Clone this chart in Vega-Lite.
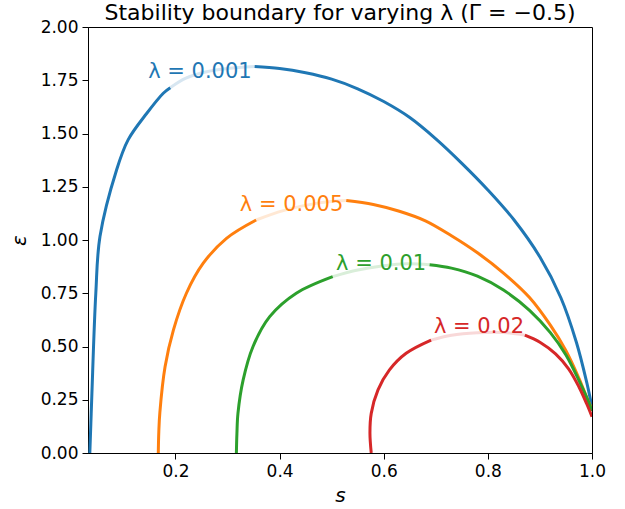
{
  "$schema": "https://vega.github.io/schema/vega-lite/v6.json",
  "width": 504,
  "height": 426,
  "autosize": {"type": "none"},
  "padding": {"left": 88, "top": 27, "right": 33, "bottom": 56},
  "background": "white",
  "title": {"text": "Stability boundary for varying λ (Γ = −0.5)", "offset": -7},
  "datasets": {
    "curves": [
      {"lam": "0.001", "part": "A", "under_label": "no", "i": 0, "s": 0.0355, "e": 0},
      {"lam": "0.001", "part": "A", "under_label": "no", "i": 1, "s": 0.0375, "e": 0.14},
      {"lam": "0.001", "part": "A", "under_label": "no", "i": 2, "s": 0.0395, "e": 0.28},
      {"lam": "0.001", "part": "A", "under_label": "no", "i": 3, "s": 0.047, "e": 0.75},
      {"lam": "0.001", "part": "A", "under_label": "no", "i": 4, "s": 0.055, "e": 1.016},
      {"lam": "0.001", "part": "A", "under_label": "no", "i": 5, "s": 0.087, "e": 1.33},
      {"lam": "0.001", "part": "A", "under_label": "no", "i": 6, "s": 0.109, "e": 1.47},
      {"lam": "0.001", "part": "A", "under_label": "no", "i": 7, "s": 0.145, "e": 1.595},
      {"lam": "0.001", "part": "A", "under_label": "no", "i": 8, "s": 0.1766, "e": 1.689},
      {"lam": "0.001", "part": "A", "under_label": "no", "i": 9, "s": 0.19, "e": 1.715},
      {"lam": "0.001", "part": "B", "under_label": "yes", "i": 10, "s": 0.19, "e": 1.715},
      {"lam": "0.001", "part": "B", "under_label": "yes", "i": 11, "s": 0.22, "e": 1.76},
      {"lam": "0.001", "part": "B", "under_label": "yes", "i": 12, "s": 0.26, "e": 1.79},
      {"lam": "0.001", "part": "B", "under_label": "yes", "i": 13, "s": 0.30, "e": 1.805},
      {"lam": "0.001", "part": "B", "under_label": "yes", "i": 14, "s": 0.352, "e": 1.814},
      {"lam": "0.001", "part": "C", "under_label": "no", "i": 15, "s": 0.352, "e": 1.814},
      {"lam": "0.001", "part": "C", "under_label": "no", "i": 16, "s": 0.40, "e": 1.805},
      {"lam": "0.001", "part": "C", "under_label": "no", "i": 17, "s": 0.45, "e": 1.785},
      {"lam": "0.001", "part": "C", "under_label": "no", "i": 18, "s": 0.50, "e": 1.755},
      {"lam": "0.001", "part": "C", "under_label": "no", "i": 19, "s": 0.55, "e": 1.71},
      {"lam": "0.001", "part": "C", "under_label": "no", "i": 20, "s": 0.60, "e": 1.65},
      {"lam": "0.001", "part": "C", "under_label": "no", "i": 21, "s": 0.65, "e": 1.575},
      {"lam": "0.001", "part": "C", "under_label": "no", "i": 22, "s": 0.70, "e": 1.475},
      {"lam": "0.001", "part": "C", "under_label": "no", "i": 23, "s": 0.75, "e": 1.36},
      {"lam": "0.001", "part": "C", "under_label": "no", "i": 24, "s": 0.80, "e": 1.235},
      {"lam": "0.001", "part": "C", "under_label": "no", "i": 25, "s": 0.85, "e": 1.095},
      {"lam": "0.001", "part": "C", "under_label": "no", "i": 26, "s": 0.90, "e": 0.92},
      {"lam": "0.001", "part": "C", "under_label": "no", "i": 27, "s": 0.94, "e": 0.73},
      {"lam": "0.001", "part": "C", "under_label": "no", "i": 28, "s": 0.97, "e": 0.52},
      {"lam": "0.001", "part": "C", "under_label": "no", "i": 29, "s": 0.99, "e": 0.33},
      {"lam": "0.001", "part": "C", "under_label": "no", "i": 30, "s": 1.0, "e": 0.215},

      {"lam": "0.005", "part": "A", "under_label": "no", "i": 0, "s": 0.167, "e": 0},
      {"lam": "0.005", "part": "A", "under_label": "no", "i": 1, "s": 0.168, "e": 0.1},
      {"lam": "0.005", "part": "A", "under_label": "no", "i": 2, "s": 0.170, "e": 0.19},
      {"lam": "0.005", "part": "A", "under_label": "no", "i": 3, "s": 0.180, "e": 0.405},
      {"lam": "0.005", "part": "A", "under_label": "no", "i": 4, "s": 0.196, "e": 0.577},
      {"lam": "0.005", "part": "A", "under_label": "no", "i": 5, "s": 0.221, "e": 0.75},
      {"lam": "0.005", "part": "A", "under_label": "no", "i": 6, "s": 0.253, "e": 0.89},
      {"lam": "0.005", "part": "A", "under_label": "no", "i": 7, "s": 0.298, "e": 1.008},
      {"lam": "0.005", "part": "A", "under_label": "no", "i": 8, "s": 0.355, "e": 1.094},
      {"lam": "0.005", "part": "B", "under_label": "yes", "i": 9, "s": 0.355, "e": 1.094},
      {"lam": "0.005", "part": "B", "under_label": "yes", "i": 10, "s": 0.407, "e": 1.138},
      {"lam": "0.005", "part": "B", "under_label": "yes", "i": 11, "s": 0.47, "e": 1.172},
      {"lam": "0.005", "part": "B", "under_label": "yes", "i": 12, "s": 0.528, "e": 1.185},
      {"lam": "0.005", "part": "C", "under_label": "no", "i": 13, "s": 0.528, "e": 1.185},
      {"lam": "0.005", "part": "C", "under_label": "no", "i": 14, "s": 0.58, "e": 1.167},
      {"lam": "0.005", "part": "C", "under_label": "no", "i": 15, "s": 0.63, "e": 1.135},
      {"lam": "0.005", "part": "C", "under_label": "no", "i": 16, "s": 0.68, "e": 1.09},
      {"lam": "0.005", "part": "C", "under_label": "no", "i": 17, "s": 0.73, "e": 1.02},
      {"lam": "0.005", "part": "C", "under_label": "no", "i": 18, "s": 0.78, "e": 0.94},
      {"lam": "0.005", "part": "C", "under_label": "no", "i": 19, "s": 0.83, "e": 0.845},
      {"lam": "0.005", "part": "C", "under_label": "no", "i": 20, "s": 0.88, "e": 0.73},
      {"lam": "0.005", "part": "C", "under_label": "no", "i": 21, "s": 0.92, "e": 0.60},
      {"lam": "0.005", "part": "C", "under_label": "no", "i": 22, "s": 0.95, "e": 0.48},
      {"lam": "0.005", "part": "C", "under_label": "no", "i": 23, "s": 0.975, "e": 0.35},
      {"lam": "0.005", "part": "C", "under_label": "no", "i": 24, "s": 0.99, "e": 0.26},
      {"lam": "0.005", "part": "C", "under_label": "no", "i": 25, "s": 1.0, "e": 0.205},

      {"lam": "0.01", "part": "A", "under_label": "no", "i": 0, "s": 0.317, "e": 0},
      {"lam": "0.01", "part": "A", "under_label": "no", "i": 1, "s": 0.318, "e": 0.09},
      {"lam": "0.01", "part": "A", "under_label": "no", "i": 2, "s": 0.320, "e": 0.186},
      {"lam": "0.01", "part": "A", "under_label": "no", "i": 3, "s": 0.330, "e": 0.343},
      {"lam": "0.01", "part": "A", "under_label": "no", "i": 4, "s": 0.349, "e": 0.5},
      {"lam": "0.01", "part": "A", "under_label": "no", "i": 5, "s": 0.381, "e": 0.64},
      {"lam": "0.01", "part": "A", "under_label": "no", "i": 6, "s": 0.432, "e": 0.75},
      {"lam": "0.01", "part": "A", "under_label": "no", "i": 7, "s": 0.502, "e": 0.828},
      {"lam": "0.01", "part": "B", "under_label": "yes", "i": 8, "s": 0.502, "e": 0.828},
      {"lam": "0.01", "part": "B", "under_label": "yes", "i": 9, "s": 0.55, "e": 0.859},
      {"lam": "0.01", "part": "B", "under_label": "yes", "i": 10, "s": 0.60, "e": 0.879},
      {"lam": "0.01", "part": "B", "under_label": "yes", "i": 11, "s": 0.645, "e": 0.888},
      {"lam": "0.01", "part": "B", "under_label": "yes", "i": 12, "s": 0.688, "e": 0.884},
      {"lam": "0.01", "part": "C", "under_label": "no", "i": 13, "s": 0.688, "e": 0.884},
      {"lam": "0.01", "part": "C", "under_label": "no", "i": 14, "s": 0.73, "e": 0.868},
      {"lam": "0.01", "part": "C", "under_label": "no", "i": 15, "s": 0.78, "e": 0.83},
      {"lam": "0.01", "part": "C", "under_label": "no", "i": 16, "s": 0.83, "e": 0.765},
      {"lam": "0.01", "part": "C", "under_label": "no", "i": 17, "s": 0.88, "e": 0.67},
      {"lam": "0.01", "part": "C", "under_label": "no", "i": 18, "s": 0.92, "e": 0.565},
      {"lam": "0.01", "part": "C", "under_label": "no", "i": 19, "s": 0.95, "e": 0.46},
      {"lam": "0.01", "part": "C", "under_label": "no", "i": 20, "s": 0.975, "e": 0.34},
      {"lam": "0.01", "part": "C", "under_label": "no", "i": 21, "s": 0.99, "e": 0.26},
      {"lam": "0.01", "part": "C", "under_label": "no", "i": 22, "s": 1.0, "e": 0.197},

      {"lam": "0.02", "part": "A", "under_label": "no", "i": 0, "s": 0.576, "e": 0},
      {"lam": "0.02", "part": "A", "under_label": "no", "i": 1, "s": 0.5735, "e": 0.094},
      {"lam": "0.02", "part": "A", "under_label": "no", "i": 2, "s": 0.576, "e": 0.186},
      {"lam": "0.02", "part": "A", "under_label": "no", "i": 3, "s": 0.589, "e": 0.296},
      {"lam": "0.02", "part": "A", "under_label": "no", "i": 4, "s": 0.611, "e": 0.39},
      {"lam": "0.02", "part": "A", "under_label": "no", "i": 5, "s": 0.643, "e": 0.468},
      {"lam": "0.02", "part": "A", "under_label": "no", "i": 6, "s": 0.691, "e": 0.53},
      {"lam": "0.02", "part": "B", "under_label": "yes", "i": 7, "s": 0.691, "e": 0.53},
      {"lam": "0.02", "part": "B", "under_label": "yes", "i": 8, "s": 0.73, "e": 0.553},
      {"lam": "0.02", "part": "B", "under_label": "yes", "i": 9, "s": 0.78, "e": 0.565},
      {"lam": "0.02", "part": "B", "under_label": "yes", "i": 10, "s": 0.83, "e": 0.566},
      {"lam": "0.02", "part": "B", "under_label": "yes", "i": 11, "s": 0.871, "e": 0.553},
      {"lam": "0.02", "part": "C", "under_label": "no", "i": 12, "s": 0.871, "e": 0.553},
      {"lam": "0.02", "part": "C", "under_label": "no", "i": 13, "s": 0.90, "e": 0.52},
      {"lam": "0.02", "part": "C", "under_label": "no", "i": 14, "s": 0.93, "e": 0.465},
      {"lam": "0.02", "part": "C", "under_label": "no", "i": 15, "s": 0.955, "e": 0.395},
      {"lam": "0.02", "part": "C", "under_label": "no", "i": 16, "s": 0.975, "e": 0.31},
      {"lam": "0.02", "part": "C", "under_label": "no", "i": 17, "s": 0.99, "e": 0.23},
      {"lam": "0.02", "part": "C", "under_label": "no", "i": 18, "s": 1.0, "e": 0.17}
    ],
    "labels": [
      {"lam": "0.001", "s": 0.247, "e": 1.789, "text": "λ = 0.001"},
      {"lam": "0.005", "s": 0.423, "e": 1.164, "text": "λ = 0.005"},
      {"lam": "0.01", "s": 0.595, "e": 0.887, "text": "λ = 0.01"},
      {"lam": "0.02", "s": 0.783, "e": 0.592, "text": "λ = 0.02"}
    ]
  },
  "layer": [
    {
      "data": {"name": "curves"},
      "mark": {"type": "line", "strokeWidth": 3, "clip": true, "interpolate": "catmull-rom"},
      "encoding": {
        "x": {"field": "s", "type": "quantitative", "scale": {"domain": [0.032, 1.0], "nice": false, "zero": false},
              "axis": {"title": "s", "values": [0.2, 0.4, 0.6, 0.8, 1.0], "format": ".1f", "titleFontStyle": "italic", "titlePadding": 6}},
        "y": {"field": "e", "type": "quantitative", "scale": {"domain": [0, 2.0], "nice": false},
              "axis": {"title": "ε", "values": [0, 0.25, 0.5, 0.75, 1.0, 1.25, 1.5, 1.75, 2.0], "format": ".2f", "titleFontStyle": "italic", "titlePadding": 11}},
        "color": {"field": "lam", "type": "nominal", "scale": {"domain": ["0.001", "0.005", "0.01", "0.02"], "range": ["#1f77b4", "#ff7f0e", "#2ca02c", "#d62728"]}, "legend": null},
        "detail": {"field": "part"},
        "opacity": {"field": "under_label", "type": "nominal", "scale": {"domain": ["no", "yes"], "range": [1, 0.18]}, "legend": null},
        "order": {"field": "i", "type": "quantitative"}
      }
    },
    {
      "data": {"name": "labels"},
      "mark": {"type": "text", "font": "DejaVu Sans", "fontSize": 21, "baseline": "middle", "align": "center"},
      "encoding": {
        "x": {"field": "s", "type": "quantitative"},
        "y": {"field": "e", "type": "quantitative"},
        "text": {"field": "text"},
        "color": {"field": "lam", "type": "nominal", "legend": null}
      }
    }
  ],
  "config": {
    "view": {"stroke": "black", "strokeWidth": 1},
    "axis": {
      "domainColor": "black", "tickColor": "black", "labelColor": "black", "titleColor": "black",
      "labelFont": "DejaVu Sans", "titleFont": "DejaVu Sans", "labelFontSize": 17, "titleFontSize": 20,
      "titleFontWeight": "normal", "grid": false, "tickSize": 6, "labelPadding": 4, "labelFlush": false, "labelOverlap": false
    },
    "title": {"font": "DejaVu Sans", "fontSize": 22, "fontWeight": "normal", "color": "black"}
  }
}
